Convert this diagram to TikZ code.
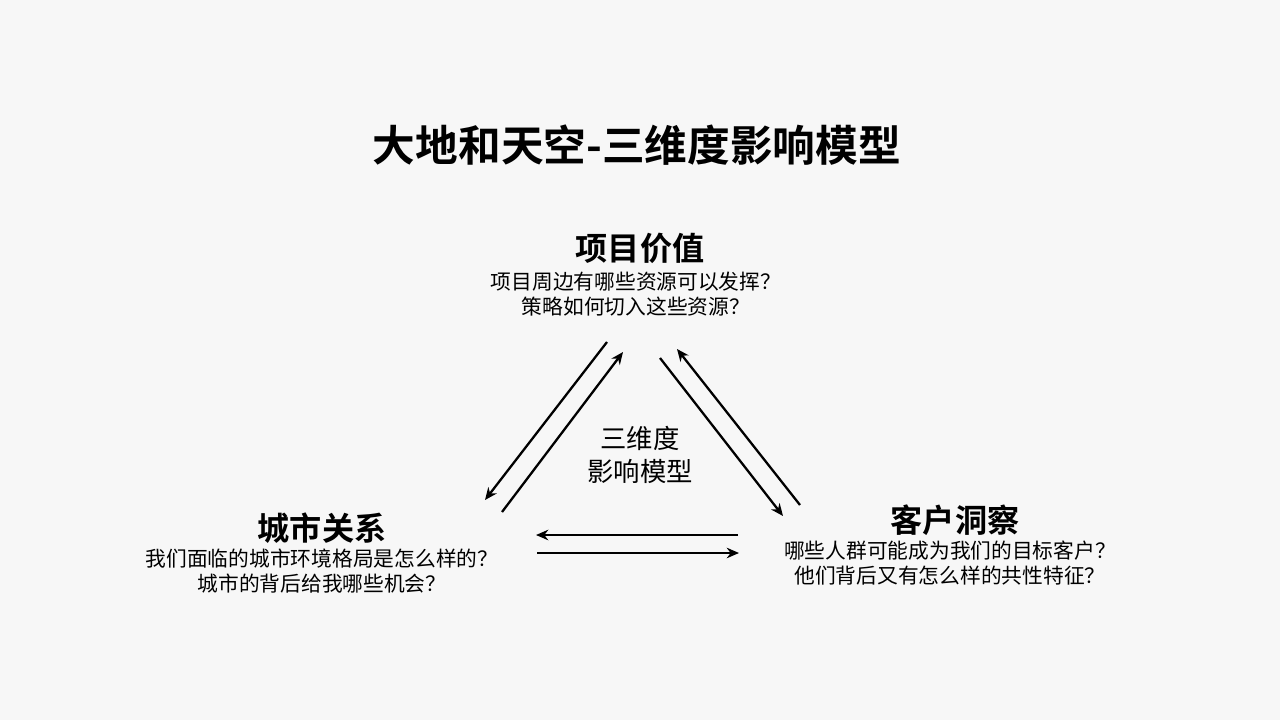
\documentclass[tikz,border=0pt]{standalone}
\usepackage{fontspec}
\setmainfont{Noto Sans CJK SC}
\newfontfamily\cjkb{Noto Sans CJK SC Bold}
\usetikzlibrary{arrows.meta}
\begin{document}
\begin{tikzpicture}[x=0.02cm,y=-0.02cm,
  head/.style={font=\cjkb\fontsize{18.3}{21}\selectfont},
  body/.style={font=\fontsize{11.8}{14.2}\selectfont,align=center},
  arr/.style={-{Stealth[length=7pt,width=6pt]},line width=1.3pt}]
\fill[gray!6] (0,0) rectangle (1280,720);
\node (title) at (637,145) {\cjkb\fontsize{24.3}{27}\selectfont 大地和天空-三维度影响模型};
\node[head] (h1) at (640,248) {项目价值};
\node[body] (b1) at (636,294) {项目周边有哪些资源可以发挥？\\策略如何切入这些资源？};
\node[head] (h2) at (322,528) {城市关系};
\node[body] (b2) at (322,571) {我们面临的城市环境格局是怎么样的？\\城市的背后给我哪些机会？};
\node[head] (h3) at (955,520) {客户洞察};
\node[body] (b3) at (950,563) {哪些人群可能成为我们的目标客户？\\他们背后又有怎么样的共性特征？};
\node[font=\fontsize{15}{19}\selectfont,align=center] (c) at (640,455) {三维度\\影响模型};
\coordinate (a1s) at (607,342); \coordinate (a1e) at (485,500);
\coordinate (a2s) at (502,512); \coordinate (a2e) at (623,352);
\coordinate (a3s) at (660,358); \coordinate (a3e) at (783,516);
\coordinate (a4s) at (800,505); \coordinate (a4e) at (677,349);
\coordinate (a5s) at (738,535); \coordinate (a5e) at (536,535);
\coordinate (a6s) at (537,553); \coordinate (a6e) at (739,553);
\draw[arr] (a1s) -- (a1e);
\draw[arr] (a2s) -- (a2e);
\draw[arr] (a3s) -- (a3e);
\draw[arr] (a4s) -- (a4e);
\draw[arr] (a5s) -- (a5e);
\draw[arr] (a6s) -- (a6e);
\end{tikzpicture}
\end{document}
